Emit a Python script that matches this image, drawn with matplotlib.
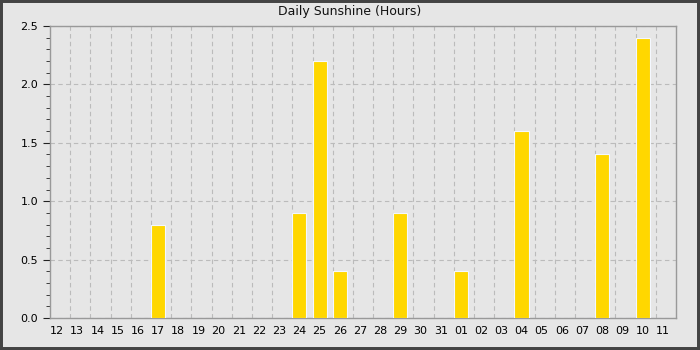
import matplotlib
matplotlib.use("Agg")
import matplotlib.pyplot as plt
from matplotlib.ticker import MultipleLocator, FixedLocator
from matplotlib.patches import Rectangle

days = ["12", "13", "14", "15", "16", "17", "18", "19", "20", "21", "22", "23", "24", "25", "26",
        "27", "28", "29", "30", "31", "01", "02", "03", "04", "05", "06", "07", "08", "09", "10", "11"]
sunshine = [0, 0, 0, 0, 0, 0.8, 0, 0, 0, 0, 0, 0, 0.9, 2.2, 0.4,
            0, 0, 0.9, 0, 0, 0.4, 0, 0, 1.6, 0, 0, 0, 1.4, 0, 2.4, 0]

bg = "#e6e6e6"
fig = plt.figure(figsize=(7, 3.5), dpi=100)
fig.patch.set_facecolor(bg)
ax = fig.add_axes([50/700, 32/350, 626/700, 292/350])
ax.set_facecolor(bg)

x = list(range(len(days)))
ax.bar(x, sunshine, width=0.7, align="edge", color="#ffd700", edgecolor="#f4f8ff", linewidth=0.8, zorder=3)

ax.set_xlim(0, len(days))
ax.set_ylim(0, 2.5)
ax.yaxis.set_major_locator(MultipleLocator(0.5))
ax.yaxis.set_minor_locator(MultipleLocator(0.1))
ax.set_yticklabels([f"{v:.1f}" for v in ax.get_yticks()])
ax.set_xticks([i + 0.35 for i in x])
ax.set_xticklabels(days)
ax.xaxis.set_minor_locator(FixedLocator(list(range(1, len(days)))))
ax.tick_params(axis="x", which="both", length=0, labelsize=8, pad=6)
ax.tick_params(axis="y", which="major", length=5, labelsize=8, color="#222222")
ax.tick_params(axis="y", which="minor", length=3, color="#222222")

ax.grid(axis="x", which="minor", linestyle=(0, (4, 3)), color="#bbbbbb", linewidth=0.8, zorder=0)
ax.grid(axis="y", which="major", linestyle=(0, (4, 3)), color="#bbbbbb", linewidth=0.8, zorder=0)
ax.set_axisbelow(True)
for s in ax.spines.values():
    s.set_color("#999999")
    s.set_linewidth(1)

fig.text(0.5, 1 - 12/350, "Daily Sunshine (Hours)", ha="center", va="center", fontsize=9, color="#111111")
fig.patches.append(Rectangle((0, 0), 1, 1, transform=fig.transFigure, fill=False,
                             edgecolor="#444444", linewidth=4.3, zorder=10))

fig.savefig("out.png", dpi=100, facecolor=bg)
